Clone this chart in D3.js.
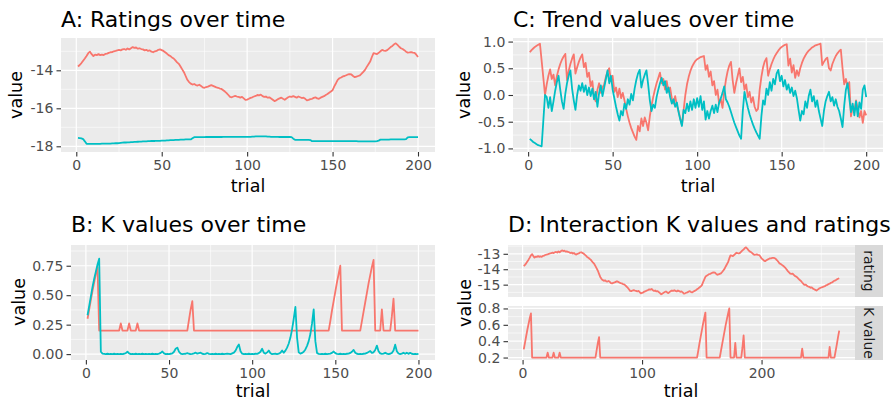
<!DOCTYPE html>
<html>
<head>
<meta charset="utf-8">
<script src="https://cdn.jsdelivr.net/npm/d3@7"></script>
<style>
  body { margin: 0; background: #ffffff; }
  svg { display: block; }
  text { font-family: "DejaVu Sans", "Noto Sans", sans-serif; }
</style>
</head>
<body>
<svg id="chart" width="896" height="403"></svg>
<script>
// ---------------------------------------------------------------
// Data: one value per trial
// ---------------------------------------------------------------
const trials = d3.range(1, 201);      // trials 1..200 (panels A, B, C)
const trialsLong = d3.range(1, 266);  // trials 1..265 (panel D)

// A: ratings, first series (red) and second series (cyan)
const ratingsS1 = [
  -13.80,-13.72,-13.62,-13.50,-13.38,-13.25,-13.10,-13.02,-13.15,-13.25,
  -13.18,-13.20,-13.15,-13.20,-13.17,-13.20,-13.14,-13.12,-13.08,-13.05,
  -13.04,-13.00,-12.98,-12.95,-12.93,-12.95,-12.90,-12.88,-12.92,-12.85,
  -12.90,-12.84,-12.78,-12.82,-12.80,-12.86,-12.84,-12.88,-12.90,-12.95,
  -12.92,-12.98,-12.95,-13.02,-13.05,-13.00,-12.98,-12.92,-12.90,-12.94,
  -12.98,-13.05,-13.12,-13.20,-13.25,-13.32,-13.38,-13.48,-13.58,-13.66,
  -13.80,-13.95,-14.10,-14.30,-14.50,-14.62,-14.70,-14.75,-14.72,-14.78,
  -14.80,-14.76,-14.82,-14.90,-14.92,-14.88,-14.86,-14.82,-14.78,-14.82,
  -14.86,-14.90,-14.92,-14.96,-14.98,-15.05,-15.12,-15.20,-15.30,-15.40,
  -15.42,-15.38,-15.35,-15.38,-15.40,-15.44,-15.40,-15.48,-15.56,-15.54,
  -15.50,-15.45,-15.42,-15.38,-15.35,-15.30,-15.32,-15.28,-15.36,-15.40,
  -15.38,-15.44,-15.42,-15.48,-15.55,-15.62,-15.58,-15.52,-15.48,-15.44,
  -15.50,-15.55,-15.48,-15.42,-15.38,-15.40,-15.36,-15.40,-15.44,-15.38,
  -15.42,-15.46,-15.44,-15.50,-15.58,-15.56,-15.52,-15.50,-15.45,-15.42,
  -15.48,-15.50,-15.44,-15.40,-15.36,-15.30,-15.25,-15.18,-15.12,-15.05,
  -14.85,-14.68,-14.50,-14.42,-14.38,-14.32,-14.30,-14.26,-14.22,-14.20,
  -14.22,-14.30,-14.36,-14.33,-14.30,-14.27,-14.18,-14.08,-13.98,-13.82,
  -13.68,-13.54,-13.30,-13.10,-13.12,-13.15,-13.08,-13.00,-12.93,-12.96,
  -12.98,-12.94,-12.86,-12.78,-12.72,-12.63,-12.58,-12.66,-12.76,-12.84,
  -12.88,-12.94,-13.02,-13.07,-13.06,-13.04,-13.07,-13.08,-13.18,-13.30
];
const ratingsS2 = [
  -17.56,-17.57,-17.58,-17.62,-17.74,-17.87,-17.87,-17.87,-17.87,-17.87,
  -17.87,-17.87,-17.87,-17.87,-17.86,-17.86,-17.86,-17.86,-17.86,-17.86,
  -17.85,-17.85,-17.84,-17.84,-17.83,-17.82,-17.81,-17.80,-17.80,-17.79,
  -17.79,-17.78,-17.78,-17.77,-17.77,-17.76,-17.75,-17.75,-17.74,-17.74,
  -17.74,-17.73,-17.73,-17.72,-17.72,-17.72,-17.71,-17.71,-17.71,-17.70,
  -17.70,-17.70,-17.69,-17.69,-17.68,-17.68,-17.67,-17.66,-17.66,-17.66,
  -17.65,-17.65,-17.65,-17.64,-17.64,-17.64,-17.64,-17.58,-17.52,-17.52,
  -17.52,-17.52,-17.52,-17.52,-17.52,-17.51,-17.51,-17.51,-17.51,-17.51,
  -17.51,-17.51,-17.51,-17.51,-17.51,-17.50,-17.50,-17.50,-17.50,-17.50,
  -17.50,-17.50,-17.50,-17.50,-17.50,-17.50,-17.50,-17.50,-17.50,-17.50,
  -17.50,-17.50,-17.49,-17.49,-17.48,-17.48,-17.48,-17.48,-17.48,-17.48,
  -17.48,-17.49,-17.49,-17.50,-17.50,-17.50,-17.50,-17.50,-17.51,-17.51,
  -17.51,-17.51,-17.51,-17.51,-17.51,-17.52,-17.60,-17.66,-17.66,-17.66,
  -17.66,-17.66,-17.66,-17.66,-17.66,-17.66,-17.67,-17.73,-17.73,-17.73,
  -17.73,-17.73,-17.73,-17.73,-17.73,-17.73,-17.73,-17.73,-17.73,-17.73,
  -17.73,-17.73,-17.73,-17.73,-17.73,-17.73,-17.73,-17.73,-17.73,-17.73,
  -17.73,-17.73,-17.73,-17.73,-17.74,-17.74,-17.74,-17.74,-17.74,-17.74,
  -17.74,-17.74,-17.74,-17.74,-17.74,-17.73,-17.70,-17.65,-17.65,-17.65,
  -17.65,-17.65,-17.65,-17.64,-17.64,-17.64,-17.64,-17.64,-17.64,-17.64,
  -17.64,-17.64,-17.62,-17.53,-17.52,-17.52,-17.52,-17.52,-17.52,-17.52
];

// B: K values, first series (red) and second series (cyan)
const kS1 = [
  0.30,0.38,0.46,0.54,0.61,0.68,0.74,0.20,0.20,0.20,
  0.20,0.20,0.20,0.20,0.20,0.20,0.20,0.20,0.20,0.20,
  0.26,0.20,0.20,0.20,0.20,0.26,0.20,0.20,0.20,0.20,
  0.26,0.20,0.20,0.20,0.20,0.20,0.20,0.20,0.20,0.20,
  0.20,0.20,0.20,0.20,0.20,0.20,0.20,0.20,0.20,0.20,
  0.20,0.20,0.20,0.20,0.20,0.20,0.20,0.20,0.20,0.20,
  0.20,0.29,0.38,0.45,0.20,0.20,0.20,0.20,0.20,0.20,
  0.20,0.20,0.20,0.20,0.20,0.20,0.20,0.20,0.20,0.20,
  0.20,0.20,0.20,0.20,0.20,0.20,0.20,0.20,0.20,0.20,
  0.20,0.20,0.20,0.20,0.20,0.20,0.20,0.20,0.20,0.20,
  0.20,0.20,0.20,0.20,0.20,0.20,0.20,0.20,0.20,0.20,
  0.20,0.20,0.20,0.20,0.20,0.20,0.20,0.20,0.20,0.20,
  0.20,0.20,0.20,0.20,0.20,0.20,0.20,0.20,0.20,0.20,
  0.20,0.20,0.20,0.20,0.20,0.20,0.20,0.20,0.20,0.20,
  0.20,0.20,0.20,0.20,0.20,0.20,0.28,0.37,0.45,0.53,
  0.61,0.68,0.75,0.20,0.20,0.20,0.20,0.20,0.20,0.20,
  0.20,0.20,0.20,0.20,0.20,0.28,0.36,0.44,0.52,0.60,
  0.67,0.74,0.80,0.20,0.20,0.20,0.20,0.38,0.20,0.20,
  0.20,0.20,0.20,0.32,0.47,0.20,0.20,0.20,0.20,0.20,
  0.20,0.20,0.20,0.20,0.20,0.20,0.20,0.20,0.20,0.20
];
const kS2 = [
  0.33,0.41,0.49,0.57,0.64,0.70,0.76,0.81,0.02,0.004,
  0.002,0,0.003,0,0.002,0,0.003,0,0.002,0,
  0.002,0,0.003,0.008,0.02,0.006,0,0.002,0,0.003,
  0,0.002,0,0.003,0,0.002,0,0.002,0,0.003,
  0,0.002,0,0.004,0.01,0.022,0.006,0,0.002,0,
  0.003,0.006,0.02,0.045,0.055,0.02,0.004,0,0.002,0.003,
  0.008,0.003,0,0.002,0.006,0.012,0.004,0.008,0.012,0.003,
  0,0.002,0.009,0.002,0,0.002,0,0.003,0,0.002,
  0,0.003,0,0.002,0.004,0.002,0,0.006,0.012,0.03,
  0.06,0.082,0.025,0.004,0,0.002,0,0.003,0,0.002,
  0,0.003,0.002,0.008,0.02,0.045,0.012,0.004,0.015,0.03,
  0.008,0,0.002,0.003,0,0.004,0.012,0.03,0.012,0.03,
  0.055,0.09,0.14,0.21,0.30,0.40,0.14,0.015,0.004,0.01,
  0.02,0.04,0.07,0.11,0.17,0.26,0.38,0.11,0.01,0.002,
  0,0.002,0,0.003,0,0.002,0.004,0.01,0.022,0.008,
  0.002,0,0.003,0,0.002,0,0.003,0.004,0.01,0.02,
  0.036,0.012,0.003,0,0.002,0,0.003,0.004,0.01,0.018,
  0.026,0.01,0.015,0.035,0.072,0.025,0.006,0.002,0.004,0.012,
  0.004,0,0.003,0.01,0.03,0.08,0.025,0.005,0,0.004,
  0.012,0.003,0.012,0.002,0.011,0.003,0,0.002,0,0.002
];

// C: trend values, first series (red) and second series (cyan)
const trendS1 = [
  0.80,0.84,0.87,0.90,0.92,0.94,0.96,0.64,0.32,0.00,
  0.20,0.36,0.48,0.30,0.38,0.18,0.35,0.48,0.58,0.66,
  0.72,0.77,0.28,0.45,0.58,0.68,0.76,0.40,0.52,0.62,
  0.70,0.76,0.52,0.60,0.34,0.42,0.16,0.26,-0.04,-0.12,
  0.10,0.22,0.04,0.14,0.20,0.34,0.44,0.50,0.26,0.36,
  0.06,0.14,-0.04,0.12,-0.06,0.04,-0.10,-0.26,-0.40,-0.52,
  -0.62,-0.70,-0.78,-0.84,-0.58,-0.68,-0.44,-0.58,-0.42,-0.52,
  -0.66,-0.40,-0.20,-0.04,0.10,0.22,0.32,0.42,0.22,0.30,
  0.10,0.26,0.06,0.14,-0.06,-0.16,-0.02,-0.20,-0.30,-0.44,
  -0.56,-0.28,0.00,0.20,0.34,0.45,0.53,0.59,0.64,0.67,
  0.69,0.71,0.72,0.73,0.47,0.56,0.34,0.44,0.18,0.26,
  0.00,0.10,-0.16,-0.08,-0.24,0.06,0.28,0.44,0.55,0.62,
  0.28,0.04,0.22,0.36,0.50,0.24,0.34,0.10,0.20,-0.04,
  0.06,-0.14,-0.04,-0.22,-0.30,-0.26,0.10,0.34,0.52,0.63,
  0.69,0.36,0.48,0.58,0.66,0.73,0.78,0.83,0.87,0.90,
  0.92,0.94,0.95,0.55,0.68,0.42,0.56,0.32,0.46,0.36,
  0.50,0.60,0.68,0.74,0.79,0.83,0.86,0.89,0.91,0.93,
  0.94,0.95,0.96,0.56,0.62,0.67,0.70,0.50,0.46,0.58,
  0.66,0.73,0.78,0.82,0.85,0.50,0.20,0.30,0.16,0.24,
  -0.40,-0.22,-0.30,-0.10,-0.26,-0.42,-0.30,-0.52,-0.30,-0.38
];
const trendS2 = [
  -0.82,-0.85,-0.88,-0.90,-0.92,-0.94,-0.95,-0.96,-0.48,0.00,
  -0.04,-0.24,-0.04,-0.30,-0.12,0.08,0.24,0.36,0.10,-0.12,
  -0.26,0.02,0.22,0.36,0.46,0.12,-0.10,-0.28,0.00,0.18,
  0.08,0.22,0.06,0.18,0.00,0.14,-0.02,0.12,-0.08,0.06,
  -0.22,0.04,0.18,-0.02,0.14,0.30,0.46,0.22,0.36,0.10,
  -0.06,-0.22,-0.36,-0.48,-0.30,-0.38,-0.16,-0.26,-0.08,-0.18,
  0.02,-0.10,0.12,0.28,0.40,0.47,0.14,0.28,0.38,0.46,
  0.20,-0.10,-0.30,-0.18,-0.24,-0.04,0.10,0.22,0.32,0.18,
  0.26,0.04,0.14,-0.04,-0.16,-0.08,-0.22,-0.14,-0.32,-0.46,
  -0.58,-0.28,-0.34,-0.16,-0.30,-0.12,-0.28,-0.08,-0.24,-0.06,
  -0.22,-0.02,-0.28,-0.12,-0.46,-0.30,-0.44,-0.30,-0.20,-0.34,
  -0.18,-0.32,-0.14,-0.06,0.04,0.16,-0.08,-0.14,-0.22,-0.32,
  -0.42,-0.52,-0.60,-0.68,-0.76,-0.82,-0.30,0.06,-0.10,-0.24,
  -0.36,-0.46,-0.55,-0.63,-0.70,-0.76,-0.82,-0.40,-0.10,-0.18,
  0.12,0.00,0.24,0.08,0.30,0.20,0.40,0.47,0.26,0.36,
  0.16,0.28,0.10,0.20,0.04,0.14,-0.02,0.08,-0.06,-0.28,
  -0.48,-0.30,-0.36,-0.12,-0.24,-0.02,0.10,-0.12,-0.02,-0.22,
  -0.10,-0.30,-0.44,-0.58,-0.30,-0.12,-0.02,0.06,-0.12,-0.04,
  -0.20,-0.08,-0.22,-0.30,-0.44,-0.60,-0.20,0.10,0.22,-0.06,
  -0.32,-0.16,-0.38,-0.12,-0.40,-0.14,-0.26,0.10,0.18,-0.04
];

// D: trials 201..265 continuing the first series of ratings and K values
const ratingsLater = [
  -13.36,-13.44,-13.48,-13.42,-13.38,-13.34,-13.30,-13.29,-13.27,-13.26,
  -13.28,-13.34,-13.42,-13.52,-13.62,-13.66,-13.72,-13.78,-13.84,-13.92,
  -14.02,-14.12,-14.20,-14.28,-14.30,-14.28,-14.36,-14.44,-14.48,-14.54,
  -14.62,-14.70,-14.76,-14.86,-14.95,-15.02,-15.00,-15.08,-15.12,-15.14,
  -15.20,-15.18,-15.26,-15.30,-15.34,-15.38,-15.32,-15.26,-15.22,-15.18,
  -15.16,-15.12,-15.10,-15.04,-15.02,-14.96,-14.94,-14.88,-14.86,-14.80,
  -14.74,-14.72,-14.66,-14.62,-14.58
];
const kLater = [
  0.20,0.20,0.20,0.20,0.20,0.20,0.20,0.20,0.20,0.20,
  0.20,0.20,0.20,0.20,0.20,0.20,0.20,0.20,0.20,0.20,
  0.20,0.20,0.20,0.20,0.20,0.20,0.20,0.20,0.20,0.20,
  0.20,0.20,0.20,0.31,0.20,0.20,0.20,0.20,0.20,0.20,
  0.20,0.20,0.20,0.20,0.20,0.20,0.20,0.20,0.20,0.20,
  0.20,0.20,0.20,0.20,0.20,0.20,0.33,0.20,0.20,0.20,
  0.20,0.28,0.36,0.45,0.53
];

const ratingsAll = ratingsS1.concat(ratingsLater);
const kAll = kS1.concat(kLater);

// ---------------------------------------------------------------
// Styling
// ---------------------------------------------------------------
const RED = "#F8766D", CYAN = "#00BFC4";
const PANEL_BG = "#EBEBEB", STRIP_BG = "#D9D9D9";
const TITLE_SIZE = 22, AXIS_TITLE_SIZE = 17.5, TICK_SIZE = 14, STRIP_SIZE = 14;
const TICK_LEN = 4.5, TICK_PAD = 3.2, LINE_W = 1.8;

const svg = d3.select("#chart");
const hyphen = s => String(s).replace("\u2212", "-");

// Draws one gray panel with grid, axes and the given series
function drawPanel(o) {
  const g = svg.append("g");
  const x = d3.scaleLinear().domain(o.xDomain).range([o.x0, o.x1]);
  const y = d3.scaleLinear().domain(o.yDomain).range([o.y1, o.y0]);

  g.append("rect")
    .attr("x", o.x0).attr("y", o.y0)
    .attr("width", o.x1 - o.x0).attr("height", o.y1 - o.y0)
    .attr("fill", PANEL_BG);

  // minor grid
  g.selectAll(".ymin").data(o.yMinor).join("line")
    .attr("x1", o.x0).attr("x2", o.x1)
    .attr("y1", d => y(d)).attr("y2", d => y(d))
    .attr("stroke", "#ffffff").attr("stroke-width", 0.6);
  g.selectAll(".xmin").data(o.xMinor).join("line")
    .attr("y1", o.y0).attr("y2", o.y1)
    .attr("x1", d => x(d)).attr("x2", d => x(d))
    .attr("stroke", "#ffffff").attr("stroke-width", 0.6);
  // major grid
  g.selectAll(".ymaj").data(o.yMajor).join("line")
    .attr("x1", o.x0).attr("x2", o.x1)
    .attr("y1", d => y(d)).attr("y2", d => y(d))
    .attr("stroke", "#ffffff").attr("stroke-width", 1.2);
  g.selectAll(".xmaj").data(o.xMajor).join("line")
    .attr("y1", o.y0).attr("y2", o.y1)
    .attr("x1", d => x(d)).attr("x2", d => x(d))
    .attr("stroke", "#ffffff").attr("stroke-width", 1.2);

  // series
  const line = d3.line().x(d => x(d[0])).y(d => y(d[1]));
  o.series.forEach(s => {
    g.append("path")
      .datum(s.x.map((t, i) => [t, s.values[i]]))
      .attr("d", line)
      .attr("fill", "none")
      .attr("stroke", s.color)
      .attr("stroke-width", LINE_W)
      .attr("stroke-linejoin", "round");
  });

  // y axis
  const ya = g.append("g").attr("transform", `translate(${o.x0},0)`)
    .call(d3.axisLeft(y).tickValues(o.yMajor).tickSize(TICK_LEN)
      .tickPadding(TICK_PAD).tickFormat(d => hyphen(o.yFormat(d))));
  styleAxis(ya);

  // x axis
  if (o.showX) {
    const xa = g.append("g").attr("transform", `translate(0,${o.y1})`)
      .call(d3.axisBottom(x).tickValues(o.xMajor).tickSize(TICK_LEN)
        .tickPadding(TICK_PAD).tickFormat(d => String(d)));
    styleAxis(xa);
  }
  return { x, y };
}

function styleAxis(a) {
  a.select(".domain").remove();
  a.selectAll(".tick line").attr("stroke", "#333333").attr("stroke-width", 1.1);
  a.selectAll(".tick text")
    .attr("fill", "#4D4D4D")
    .style("font-size", TICK_SIZE + "px")
    .style("font-family", "'DejaVu Sans', sans-serif");
}

function title(txt, x, y) {
  svg.append("text").attr("x", x).attr("y", y)
    .attr("fill", "#000000").style("font-size", TITLE_SIZE + "px").text(txt);
}
function xTitle(cx, y) {
  svg.append("text").attr("x", cx).attr("y", y).attr("text-anchor", "middle")
    .attr("fill", "#000000").style("font-size", AXIS_TITLE_SIZE + "px").text("trial");
}
function yTitle(x, cy) {
  svg.append("text").attr("transform", `translate(${x},${cy}) rotate(-90)`)
    .attr("text-anchor", "middle")
    .attr("fill", "#000000").style("font-size", AXIS_TITLE_SIZE + "px").text("value");
}
function strip(x0, x1, y0, y1, label) {
  svg.append("rect").attr("x", x0).attr("y", y0)
    .attr("width", x1 - x0).attr("height", y1 - y0).attr("fill", STRIP_BG);
  svg.append("text")
    .attr("transform", `translate(${(x0 + x1) / 2},${(y0 + y1) / 2}) rotate(90)`)
    .attr("text-anchor", "middle").attr("dy", "0.35em")
    .attr("fill", "#1A1A1A").style("font-size", STRIP_SIZE + "px").text(label);
}

const xTicks200 = [0, 50, 100, 150, 200], xMinor200 = [25, 75, 125, 175];
const xDom200 = [-8.95, 209.95];

// ---------------------------------------------------------------
// A: Ratings over time
// ---------------------------------------------------------------
drawPanel({
  x0: 61, x1: 435, y0: 38, y1: 152,
  xDomain: xDom200, yDomain: [-18.3, -12.3],
  xMajor: xTicks200, xMinor: xMinor200,
  yMajor: [-18, -16, -14], yMinor: [-17, -15, -13],
  yFormat: d3.format("d"), showX: true,
  series: [
    { x: trials, values: ratingsS1, color: RED },
    { x: trials, values: ratingsS2, color: CYAN }
  ]
});
title("A: Ratings over time", 61, 27);
xTitle(248, 192);
yTitle(22, 95);

// ---------------------------------------------------------------
// C: Trend values over time
// ---------------------------------------------------------------
drawPanel({
  x0: 513, x1: 883, y0: 38, y1: 152,
  xDomain: xDom200, yDomain: [-1.067, 1.067],
  xMajor: xTicks200, xMinor: xMinor200,
  yMajor: [-1, -0.5, 0, 0.5, 1], yMinor: [-0.75, -0.25, 0.25, 0.75],
  yFormat: d => d.toFixed(1), showX: true,
  series: [
    { x: trials, values: trendS1, color: RED },
    { x: trials, values: trendS2, color: CYAN }
  ]
});
title("C: Trend values over time", 513, 27);
xTitle(698, 192);
yTitle(470, 95);

// ---------------------------------------------------------------
// B: K values over time
// ---------------------------------------------------------------
drawPanel({
  x0: 71, x1: 435, y0: 245, y1: 360,
  xDomain: xDom200, yDomain: [-0.05, 0.926],
  xMajor: xTicks200, xMinor: xMinor200,
  yMajor: [0, 0.25, 0.5, 0.75], yMinor: [0.125, 0.375, 0.625, 0.875],
  yFormat: d => d.toFixed(2), showX: true,
  series: [
    { x: trials, values: kS1, color: RED },
    { x: trials, values: kS2, color: CYAN }
  ]
});
title("B: K values over time", 71, 232);
xTitle(253, 397);
yTitle(25, 302);

// ---------------------------------------------------------------
// D: Interaction K values and ratings (two facets, rating on top)
// ---------------------------------------------------------------
const xDomD = [-12.2, 278.2];
drawPanel({
  x0: 508, x1: 855, y0: 245, y1: 297,
  xDomain: xDomD, yDomain: [-15.80, -12.43],
  xMajor: [0, 100, 200], xMinor: [50, 150, 250],
  yMajor: [-15, -14, -13], yMinor: [-15.5, -14.5, -13.5, -12.5],
  yFormat: d3.format("d"), showX: false,
  series: [{ x: trialsLong, values: ratingsAll, color: RED }]
});
drawPanel({
  x0: 508, x1: 855, y0: 306, y1: 360,
  xDomain: xDomD, yDomain: [0.17, 0.83],
  xMajor: [0, 100, 200], xMinor: [50, 150, 250],
  yMajor: [0.2, 0.4, 0.6, 0.8], yMinor: [0.3, 0.5, 0.7],
  yFormat: d => d.toFixed(1), showX: true,
  series: [{ x: trialsLong, values: kAll, color: RED }]
});
strip(855, 883, 245, 297, "rating");
strip(855, 883, 306, 360, "K value");
title("D: Interaction K values and ratings", 508, 232);
xTitle(681, 397);
yTitle(471, 303);
</script>
</body>
</html>
